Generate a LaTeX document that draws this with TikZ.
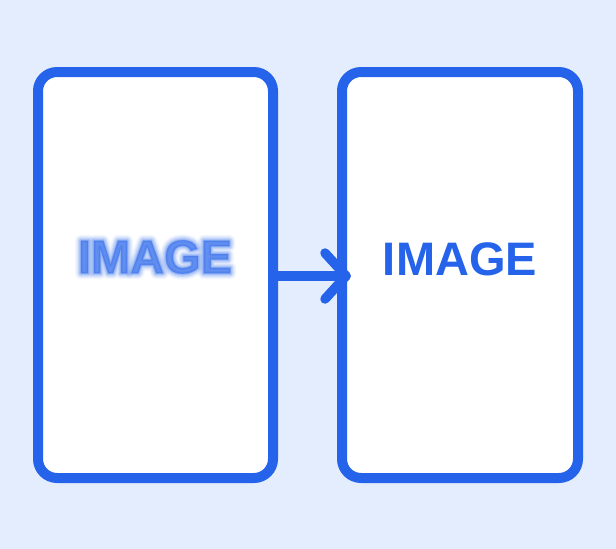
\documentclass[tikz,border=0pt]{standalone}
\usepackage{fontspec}
\setmainfont{Liberation Sans}
\definecolor{bg}{HTML}{E4EDFD}
\definecolor{stroke}{HTML}{2563EB}
\definecolor{txt}{HTML}{2563EB}
\definecolor{soft}{HTML}{3B74EE}
\tikzset{
  card/.style={draw=stroke, line width=10pt, fill=white, rounded corners=19pt},
  conn/.style={draw=stroke, line width=9.5pt, line cap=round, line join=round},
  label/.style={inner sep=0pt, text=txt, font=\fontsize{47}{47}\selectfont\bfseries},
  haze/.style={inner sep=0pt, text=soft, font=\fontsize{47}{47}\selectfont\bfseries},
}
\newcommand{\hazetext}[2]{\special{pdf:literal direct 2 Tr #1 w 1 j 0.231 0.455 0.933 RG}#2\special{pdf:literal direct 0 Tr}}
\begin{document}
\begin{tikzpicture}[x=1pt,y=-1pt]
  \fill[bg] (0,0) rectangle (616,549);
  \useasboundingbox (0,0) rectangle (616,549);
  % cards
  \path[card] (38,72) rectangle (273,478);
  \path[card] (342,72) rectangle (578,478);
  \node[inner sep=0pt, minimum width=235pt, minimum height=406pt] (left) at (155.5,275) {};
  \node[inner sep=0pt, minimum width=236pt, minimum height=406pt] (right) at (460,275) {};
  % blurred text
  \node[haze, opacity=0.07] (blur1) at (155,257) {\hazetext{12}{IMAGE}};
  \node[haze, opacity=0.10] (blur2) at (155,257) {\hazetext{9}{IMAGE}};
  \node[haze, opacity=0.14] (blur3) at (155,257) {\hazetext{6.5}{IMAGE}};
  \node[haze, opacity=0.18] (blur4) at (155,257) {\hazetext{4}{IMAGE}};
  \node[haze, opacity=0.25] (blur5) at (155,257) {\hazetext{2}{IMAGE}};
  \node[haze, opacity=0.35] (blur6) at (155,257) {\hazetext{0.3}{IMAGE}};
  % crisp text
  \node[label] (crisp) at (460,259) {IMAGE};
  % arrow
  \coordinate (tip) at (346,276);
  \draw[conn] (left.east |- tip) -- (tip);
  \draw[conn] (325,253) -- (tip) -- (325,299);
\end{tikzpicture}
\end{document}
